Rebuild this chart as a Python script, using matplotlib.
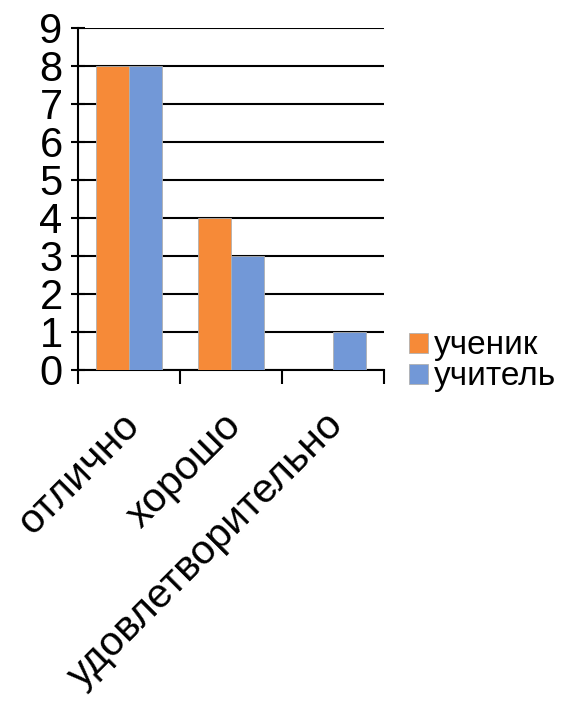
import numpy as np
import matplotlib.pyplot as plt
from matplotlib.transforms import ScaledTranslation

plt.rcParams['font.family'] = ['Liberation Sans', 'DejaVu Sans']

categories = ['отлично', 'хорошо', 'удовлетворительно']
student = [8, 4, 0]
teacher = [8, 3, 1]
series_names = ['ученик', 'учитель']
colors = ['#F68A38', '#7298D7']

W, H = 575, 701
fig = plt.figure(figsize=(W / 100, H / 100), dpi=100)
ax = fig.add_axes([78 / W, 1 - 370 / H, (384 - 78) / W, (370 - 28) / H])

x = np.arange(len(categories))
bw = 0.325
b1 = ax.bar(x - bw / 2, student, bw, color=colors[0], edgecolor='#b0b0b0', linewidth=0.6, zorder=3)
b2 = ax.bar(x + bw / 2, teacher, bw, color=colors[1], edgecolor='#b0b0b0', linewidth=0.6, zorder=3)

ax.set_xlim(-0.5, 2.5)
ax.set_ylim(0, 9)
ax.set_yticks(range(10))
ax.yaxis.grid(True, color='black', linewidth=1.5, zorder=0)
ax.set_xticks([-0.5, 0.5, 1.5, 2.5])
ax.set_xticklabels([])
ax.set_xticks(x, minor=True)
ax.set_xticklabels(categories, minor=True, rotation=45, ha='right', va='top',
                   rotation_mode='anchor', fontsize=29.5)
ax.tick_params(axis='x', which='minor', length=0, pad=22)
ax.tick_params(axis='x', which='major', length=10, width=1.5, direction='out')
ax.tick_params(axis='y', length=10, width=1.5, direction='inout', labelsize=30, pad=6)
shift = ScaledTranslation(-9 / 100, -5 / 100, fig.dpi_scale_trans)
for lab in ax.get_xticklabels(minor=True):
    lab.set_transform(lab.get_transform() + shift)
for s in ['top', 'right']:
    ax.spines[s].set_visible(False)
ax.spines['left'].set_linewidth(1.5)
ax.spines['bottom'].set_linewidth(1.5)

fig.legend([b1, b2], series_names, loc='upper left', bbox_to_anchor=(396 / W, 1 - 317 / H),
           frameon=False, fontsize=24, handlelength=0.55, handleheight=0.55,
           handletextpad=0.2, labelspacing=0.0, borderaxespad=0)

fig.savefig('out.png', dpi=100)
